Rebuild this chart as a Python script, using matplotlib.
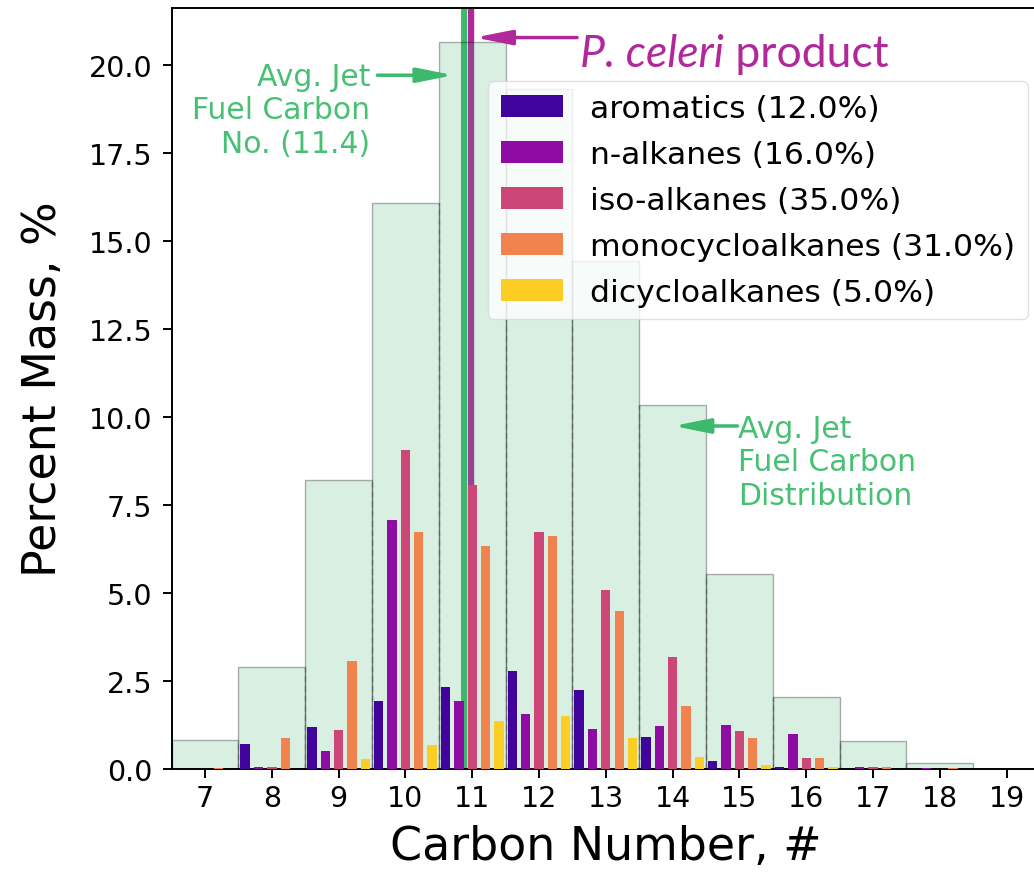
import numpy as np
import matplotlib
matplotlib.use('Agg')
import matplotlib.pyplot as plt

# carbon numbers on the x axis
carbon = np.arange(7, 20)

# average jet fuel carbon distribution (background steps), % mass
jet_dist = [0.83, 2.90, 8.22, 16.07, 20.65, 19.30, 14.43, 10.33, 5.53, 2.05, 0.79, 0.16, 0.0]

# P. celeri product by hydrocarbon class, % mass
aromatics = [0.0, 0.71, 1.18, 1.93, 2.32, 2.77, 2.23, 0.92, 0.24, 0.05, 0.0, 0.0, 0.0]
n_alkanes = [0.0, 0.05, 0.50, 7.07, 1.94, 1.56, 1.14, 1.21, 1.26, 1.00, 0.05, 0.04, 0.0]
iso_alkanes = [0.0, 0.05, 1.10, 9.06, 8.06, 6.72, 5.09, 3.18, 1.09, 0.32, 0.05, 0.0, 0.0]
monocyclo = [0.03, 0.88, 3.06, 6.72, 6.33, 6.63, 4.50, 1.80, 0.88, 0.32, 0.05, 0.04, 0.0]
dicyclo = [0.0, 0.0, 0.28, 0.67, 1.35, 1.51, 0.88, 0.34, 0.11, 0.05, 0.0, 0.0, 0.0]

class_labels = ['aromatics (12.0%)', 'n-alkanes (16.0%)', 'iso-alkanes (35.0%)',
                'monocycloalkanes (31.0%)', 'dicycloalkanes (5.0%)']
class_colors = ['#40049c', '#8e0ca4', '#cc4778', '#f1834e', '#fccd25']

avg_jet_carbon = 10.88
celeri_carbon = 10.98

green = '#3cb96d'
green_text = '#48c074'
purple = '#b0289a'

plt.rcParams.update({
    'font.family': 'DejaVu Sans',
    'axes.linewidth': 1.4,
    'xtick.major.width': 1.4,
    'ytick.major.width': 1.4,
    'xtick.major.size': 6.5,
    'ytick.major.size': 6.5,
})

fig = plt.figure(figsize=(10.34, 8.78), dpi=100)
ax = fig.add_axes([0.166, 0.123, 0.8398, 0.8664])

# reference lines sit behind the background distribution
ax.axvline(avg_jet_carbon, color=green, lw=4.3, zorder=1)
ax.axvline(celeri_carbon, color=purple, lw=4.6, zorder=1)

# background jet fuel distribution
ax.bar(carbon, jet_dist, width=1.0, color=(60/255, 179/255, 113/255, 0.2),
       edgecolor=(0, 0, 0, 0.3), lw=1.0, zorder=2)
for i in range(len(carbon) - 1):
    top = min(jet_dist[i], jet_dist[i + 1])
    if top > 0:
        ax.plot([carbon[i] + 0.5] * 2, [0, top], ls=(0, (4, 3)), color='0.35',
                lw=1.0, alpha=0.55, zorder=2.1)

# grouped class bars
series = [aromatics, n_alkanes, iso_alkanes, monocyclo, dicyclo]
offsets = [-0.4, -0.2, 0.0, 0.2, 0.4]
for vals, off, col, lab in zip(series, offsets, class_colors, class_labels):
    ax.bar(carbon + off, vals, width=0.14, color=col, label=lab, zorder=3)

ax.set_xlim(6.5, 19.5)
ax.set_ylim(0, 21.6)
ax.set_xticks(carbon)
ax.set_yticks(np.arange(0, 20.1, 2.5))
ax.set_yticklabels([f'{v:.1f}' for v in np.arange(0, 20.1, 2.5)])
ax.tick_params(axis='x', labelsize=20.5, pad=4)
ax.tick_params(axis='y', labelsize=20.5, pad=7.5)
ax.set_xlabel('Carbon Number, #', fontsize=33, labelpad=9)
ax.set_ylabel('Percent Mass, %', fontsize=33, labelpad=16)

leg = ax.legend(loc='upper right', bbox_to_anchor=(0.986, 0.904), borderaxespad=0,
                fontsize=22.6, handlelength=2.0, handleheight=0.7, handletextpad=0.85,
                labelspacing=0.54, borderpad=0.4, framealpha=0.8)
leg.get_frame().set_edgecolor('0.85')
leg.set_zorder(5)

# annotations
arrow_kw = dict(arrowstyle='-|>,head_length=1.1,head_width=0.22', lw=2.5,
                shrinkA=0, shrinkB=0, mutation_scale=20)
ax.annotate('', xy=(10.72, 19.7), xytext=(9.58, 19.7),
            arrowprops=dict(color=green, **arrow_kw), zorder=6)
ax.text(9.47, 18.72, 'Avg. Jet\nFuel Carbon\nNo. (11.4)', color=green_text,
        fontsize=21.5, ha='right', va='center', multialignment='right', zorder=6)

ax.annotate('', xy=(14.01, 9.74), xytext=(14.97, 9.74),
            arrowprops=dict(color=green, **arrow_kw), zorder=6)
ax.text(14.98, 8.72, 'Avg. Jet\nFuel Carbon\nDistribution', color=green_text,
        fontsize=21.5, ha='left', va='center', multialignment='left', zorder=6)

ax.annotate('', xy=(11.04, 20.77), xytext=(12.57, 20.77),
            arrowprops=dict(color=purple, **arrow_kw), zorder=6)
t1 = ax.text(12.62, 19.97, 'P. celeri', color=purple, fontsize=32,
             family='Lato', style='italic', ha='left', va='baseline', zorder=6)
ax.annotate(' product', xy=(1, 0), xycoords=t1, color=purple, fontsize=32,
            family='Lato', ha='left', va='bottom', zorder=6)

fig.savefig('out.png', dpi=100)
